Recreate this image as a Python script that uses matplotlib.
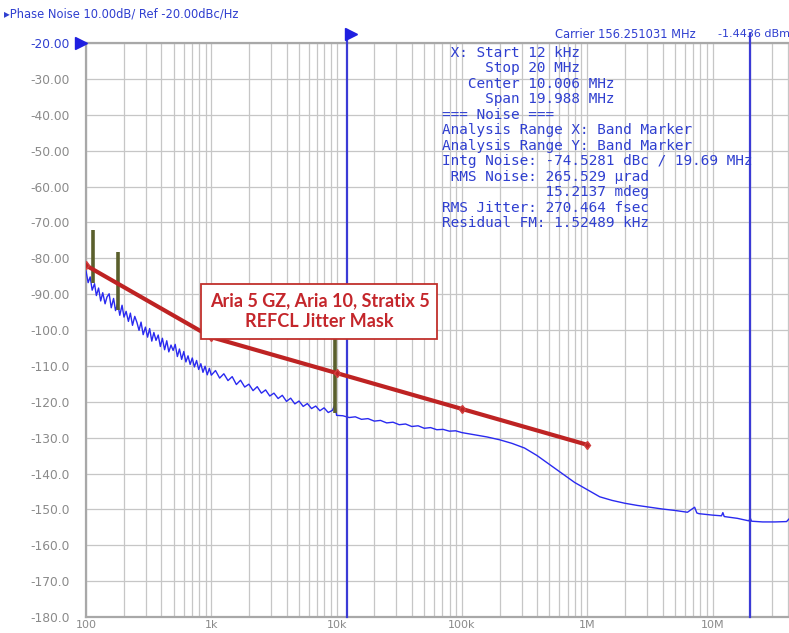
import matplotlib
matplotlib.use("Agg")
import matplotlib.pyplot as plt
import matplotlib.transforms as mtransforms

# measured phase noise trace (Hz, dBc/Hz)
noise_freq = [100, 104, 108, 112, 117, 121, 126, 131, 136, 142, 147, 153, 159, 166, 172,
              179, 186, 194, 201, 209, 218, 226, 235, 245, 255, 265, 275, 286, 298, 310,
              322, 335, 348, 362, 377, 392, 407, 424, 441, 458, 477, 496, 515, 536, 557,
              580, 603, 627, 652, 678, 705, 733, 763, 793, 825, 858, 892, 928, 965, 1000,
              1080, 1166, 1259, 1359, 1468, 1585, 1711, 1848, 1995, 2154, 2326, 2512, 2712,
              2929, 3162, 3415, 3687, 3981, 4299, 4642, 5012, 5412, 5843, 6310, 6813, 7356,
              7943, 8577, 9261, 9700, 10000,
              11200, 12600, 14100, 15800, 17800, 20000, 22400, 25100, 28200, 31600, 35500,
              39800, 44700, 50100, 56200, 63100, 70800, 79400, 89100, 100000,
              126000, 158000, 200000, 251000, 316000, 398000, 501000, 631000, 794000, 1.0e6,
              1.26e6, 1.58e6, 2.0e6, 2.51e6, 3.16e6, 3.98e6, 5.01e6, 6.31e6, 7.2e6, 7.5e6, 7.8e6,
              1.0e7, 1.18e7, 1.21e7, 1.24e7, 1.58e7, 1.95e7, 2.0e7, 2.05e7, 2.51e7, 3.16e7, 3.9e7, 4.1e7]
noise_db = [-83.5, -86.8, -85.2, -88.9, -87.1, -90.4, -88.3, -91.9, -89.6, -92.7, -90.8, -89.9, -93.8, -91.2, -94.6,
            -92.5, -95.9, -93.1, -96.4, -94.8, -97.6, -95.3, -98.7, -96.2, -97.9, -100.1, -97.8, -101.3, -99.2, -102.0,
            -99.6, -103.1, -100.7, -102.9, -101.4, -104.6, -102.3, -105.5, -103.0, -106.1, -104.2, -105.7, -104.0, -107.4, -105.3,
            -108.2, -106.0, -108.9, -107.2, -109.6, -107.8, -110.3, -108.5, -111.0, -109.4, -111.8, -110.1, -112.5, -110.7, -112.6,
            -111.3, -113.4, -112.2, -114.1, -113.0, -115.2, -114.0, -115.9, -115.1, -116.9, -115.8, -117.6, -116.7,
            -118.4, -117.6, -119.1, -118.2, -119.9, -119.0, -120.6, -119.8, -121.3, -120.5, -121.9, -121.2, -122.5,
            -121.7, -123.0, -122.4, -120.8, -123.8,
            -123.9, -124.4, -124.2, -124.9, -124.7, -125.4, -125.2, -125.9, -125.7, -126.4, -126.2,
            -126.9, -126.7, -127.4, -127.2, -127.8, -127.7, -128.2, -128.1, -128.6,
            -129.2, -129.8, -130.6, -131.6, -132.9, -135.0, -137.5, -140.0, -142.5, -144.5,
            -146.5, -147.5, -148.3, -148.9, -149.4, -149.9, -150.3, -150.8, -149.4, -151.0, -151.2,
            -151.6, -151.8, -150.9, -152.0, -152.5, -153.2, -152.4, -153.3, -153.5, -153.5, -153.4, -152.6]

# spurs drawn by the analyser (Hz, top dB, base dB)
spur_freq = [113, 180, 9700]
spur_top = [-72.0, -78.3, -102.5]
spur_base = [-87.0, -94.5, -123.0]

# REFCLK jitter mask
mask_freq = [100, 1e3, 1e4, 1e5, 1e6]
mask_db = [-82, -102, -112, -122, -132]

# band markers
marker_freq = [12e3, 20e6]

ytick_vals = list(range(-20, -190, -10))
ytick_labels = ["%.2f" % v if v > -100 else "%.1f" % v for v in ytick_vals]
xtick_vals = [1e2, 1e3, 1e4, 1e5, 1e6, 1e7]
xtick_labels = ["100", "1k", "10k", "100k", "1M", "10M"]

info_lines = [
    " X: Start 12 kHz",
    "     Stop 20 MHz",
    "   Center 10.006 MHz",
    "     Span 19.988 MHz",
    "=== Noise ===",
    "Analysis Range X: Band Marker",
    "Analysis Range Y: Band Marker",
    "Intg Noise: -74.5281 dBc / 19.69 MHz",
    " RMS Noise: 265.529 \u00b5rad",
    "            15.2137 mdeg",
    "RMS Jitter: 270.464 fsec",
    "Residual FM: 1.52489 kHz",
]

W, H = 789, 633
BLUE = "#2a2af0"
TXTBLUE = "#2f3fd0"
GRAY = "#8a8a8a"
GRID = "#c6c6c6"
RED = "#be2323"
SPUR = "#5a5f2c"

fig = plt.figure(figsize=(W / 100, H / 100), dpi=100)
ax = fig.add_axes([86 / W, 1 - 617 / H, 1 - 86 / W, (617 - 43) / H])

ax.set_xscale("log")
ax.set_xlim(100, 100 * 10 ** ((W - 86) / 125.3))
ax.set_ylim(-180, -20)

ax.grid(True, which="both", axis="x", color=GRID, lw=0.9)
ax.grid(True, which="major", axis="y", color=GRID, lw=0.9)
ax.set_axisbelow(True)

for side in ["left", "bottom", "top"]:
    ax.spines[side].set_color("#a8a8a8")
    ax.spines[side].set_linewidth(1.6)
ax.spines["right"].set_visible(False)

ax.set_yticks(ytick_vals)
ax.set_yticklabels(ytick_labels)
ax.set_xticks(xtick_vals)
ax.set_xticklabels(xtick_labels)
ax.tick_params(axis="both", which="both", length=0, colors=GRAY)
ax.tick_params(axis="y", pad=11.5, labelsize=8.8)
ax.tick_params(axis="x", pad=2.0, labelsize=8.0)
ax.get_yticklabels()[0].set_color(TXTBLUE)

# trace and spurs
ax.plot(noise_freq, noise_db, color=BLUE, lw=1.0, zorder=3)
ax.vlines(spur_freq, spur_base, spur_top, color=SPUR, lw=2.6, zorder=4)

# band marker lines extend a little above the grid
blend = mtransforms.blended_transform_factory(ax.transData, ax.transAxes)
for f, top in zip(marker_freq, [1.023, 1.015]):
    ax.plot([f, f], [0, top], color="#3b3bd6", lw=1.6, transform=blend, clip_on=False, zorder=5)
ax.plot([marker_freq[0] * 1.09], [1.0155], marker=">", ms=8, color="#1f1fe0",
        transform=blend, clip_on=False, zorder=6)
ax.plot([-0.0065], [1.0], marker=">", ms=9, color="#1f1fe0",
        transform=ax.transAxes, clip_on=False, zorder=6)

# jitter mask
ax.plot(mask_freq, mask_db, color=RED, lw=3.0, marker="d", ms=4.5, mec="#d04040", zorder=6)

ax.text(7300, -94.8, "Aria 5 GZ, Aria 10, Stratix 5\nREFCL Jitter Mask",
        ha="center", va="center", color="#c4262b", fontsize=13, fontweight="bold",
        family="Lato", linespacing=1.3, zorder=8,
        bbox=dict(boxstyle="square,pad=0.45", fc="white", ec="#c0302c", lw=1.3))

# header texts
def px(x, y):
    return x / W, 1 - y / H

fig.text(*px(4, 14), "\u25b8Phase Noise 10.00dB/ Ref -20.00dBc/Hz", color=TXTBLUE,
         fontsize=8.3, va="center", ha="left")
fig.text(*px(555, 34), "Carrier 156.251031 MHz", color=TXTBLUE, fontsize=8.3, va="center", ha="left")
fig.text(*px(718, 34), "-1.4436 dBm", color=TXTBLUE, fontsize=8.0, va="center", ha="left")

y0, dy = 53, 15.45
for i, line in enumerate(info_lines):
    fig.text(*px(442, y0 + i * dy), line, color=TXTBLUE, family="DejaVu Sans Mono",
             fontsize=10.4, va="center", ha="left", zorder=7)

fig.savefig("out.png", dpi=100)
